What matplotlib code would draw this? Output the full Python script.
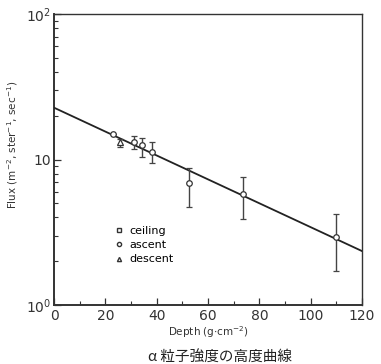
import matplotlib
matplotlib.use("Agg")
import matplotlib.pyplot as plt
from matplotlib.ticker import FixedLocator, NullFormatter

# data
depth = [23.1, 25.7, 31.3, 34.4, 38.0, 52.7, 73.7, 109.9]
flux = [15.0, 13.3, 13.3, 12.6, 11.2, 6.9, 5.8, 2.95]
flux_hi = [15.0, 13.8, 14.5, 14.0, 13.2, 8.8, 7.55, 4.2]
flux_lo = [15.0, 12.2, 11.8, 10.4, 9.5, 4.7, 3.9, 1.71]
kind = ['ascent', 'descent', 'ascent', 'ascent', 'ascent', 'ascent', 'ascent', 'ascent']

fit_x = [0, 120]
fit_y = [22.7, 2.35]

xticks = [0, 20, 40, 60, 80, 100, 120]
yticks = [1, 10, 100]
ytick_labels = [r'$10^0$', '10', r'$10^2$']

marker_of = {'ceiling': 's', 'ascent': 'o', 'descent': '^'}

fig = plt.figure(figsize=(3.81, 3.64), dpi=100)
ax = fig.add_axes([0.142, 0.162, 0.808, 0.7995])

ax.plot(fit_x, fit_y, color='#222222', lw=1.3, zorder=3)

for x, y, hi, lo, k in zip(depth, flux, flux_hi, flux_lo, kind):
    ax.errorbar([x], [y], yerr=[[y - lo], [hi - y]], fmt=marker_of[k],
                ms=4, mfc='white', mec='#333333', mew=0.9,
                ecolor='#444444', elinewidth=1.0, capsize=2, capthick=1.0, zorder=4)

ax.set_yscale('log')
ax.set_xlim(0, 120)
ax.set_ylim(1, 100)

ax.xaxis.set_major_locator(FixedLocator(xticks))
ax.xaxis.set_minor_locator(FixedLocator(list(range(10, 120, 20))))
ax.yaxis.set_major_locator(FixedLocator(yticks))
ax.set_yticklabels(ytick_labels)
ax.yaxis.set_minor_formatter(NullFormatter())

ax.tick_params(which='both', direction='in', top=False, right=False,
               labelsize=10, colors='#333333')
ax.tick_params(which='major', length=5, width=0.9)
ax.tick_params(which='minor', length=3, width=0.8)
ax.tick_params(axis='x', pad=3)
ax.tick_params(axis='y', pad=2)

for s in ax.spines.values():
    s.set_color('#333333')
    s.set_linewidth(1.0)
ax.spines['left'].set_linewidth(1.4)
ax.spines['bottom'].set_linewidth(1.4)

ax.set_xlabel(r'Depth (g$\cdot$cm$^{-2}$)', fontsize=7.5, color='#333333', labelpad=1)
ax.set_ylabel(r'Flux (m$^{-2}$, ster$^{-1}$, sec$^{-1}$)', fontsize=7.5, color='#333333', labelpad=3)
ax.yaxis.set_label_coords(-0.11, 0.55)

# legend
leg_labels = ['ceiling', 'ascent', 'descent']
for i, lab in enumerate(leg_labels):
    ax.plot([], [], marker_of[lab], ms=3, mfc='white', mec='#333333', label=lab)
ax.legend(loc='upper left', bbox_to_anchor=(0.17, 0.30), frameon=False,
          fontsize=8, handlelength=0.8, handletextpad=0.6, labelspacing=0.4,
          borderpad=0.2)

fig.text(0.578, 0.005, 'α 粒子強度の高度曲線', fontsize=10.5, ha='center',
         family=['Noto Sans CJK JP', 'DejaVu Sans'], color='#222222')

fig.savefig('out.png', dpi=100, facecolor='white')
